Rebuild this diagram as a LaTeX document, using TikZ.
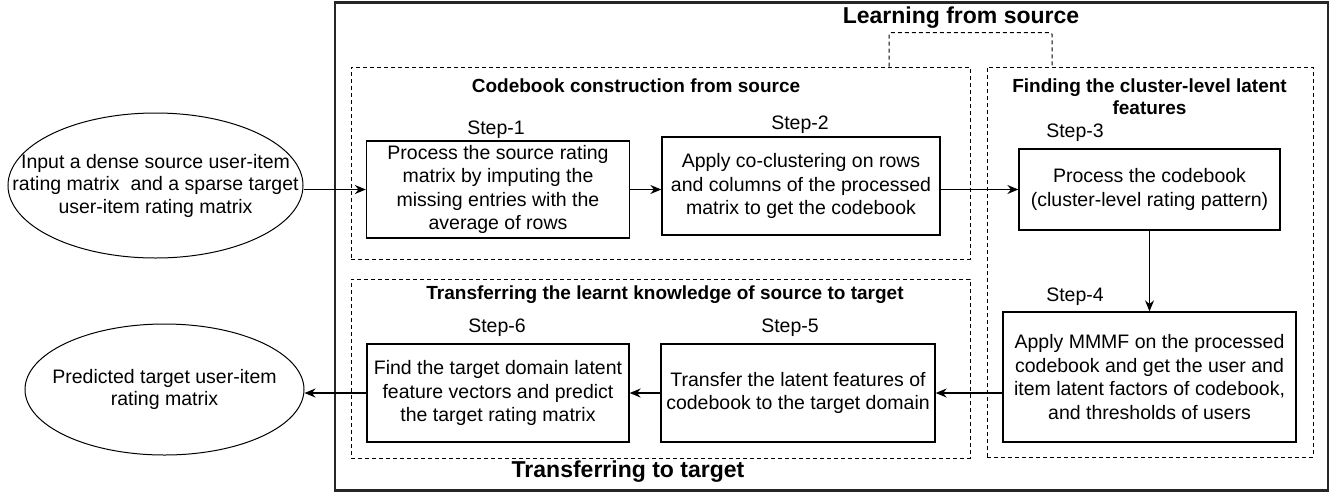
\documentclass[tikz,border=0pt]{standalone}
\usepackage{fontspec}
\setmainfont{Liberation Sans}
\usetikzlibrary{positioning,arrows.meta,shapes.geometric}

\begin{document}
\begin{tikzpicture}[x=1pt, y=-1pt,
	stepbox/.style={draw, line width=1.3pt, align=center, inner sep=0pt,
		font=\fontsize{19.5}{23.5}\selectfont},
	oval/.style={draw, ellipse, line width=1pt, align=center, inner ysep=0pt,
		font=\fontsize{19.5}{22.5}\selectfont},
	grpbox/.style={draw, line width=1pt, dash pattern=on 4pt off 3pt, inner sep=0pt},
	steplbl/.style={anchor=base, font=\fontsize{19.5}{23}\selectfont},
	grptitle/.style={anchor=base, font=\bfseries\fontsize{19}{22}\selectfont},
	bigtitle/.style={anchor=base, font=\bfseries\fontsize{23}{27}\selectfont},
	flow/.style={-{Stealth[length=11pt,width=9pt]}, line width=1.3pt}
	]

	\def\xL{498}
	\def\xM{800}
	\def\xR{1149.5}
	%
	\def\yT{189.5}
	\def\yB{393}

	\useasboundingbox (0,0) rectangle (1343,493);

	% frames
	\node[draw, line width=2.2pt, draw=black!85, inner sep=0pt,
		minimum width=993, minimum height=488] (outer) at (831.5,246.5) {};
	\node[grpbox, minimum width=619, minimum height=192] (cbk) at (660.5,163) {};
	\node[grpbox, minimum width=619, minimum height=179] (trf) at (660.5,368.5) {};
	\node[grpbox, minimum width=326, minimum height=390] (fnd) at (1150,262) {};

	\coordinate (lnkL) at (cbk.north -| 889,0);
	\coordinate (lnkR) at (fnd.north -| 1052,0);
	\draw[grpbox, rounded corners=2pt]
		(lnkL) -- ++(0,-34) -| (lnkR);

	% titles
	\node[bigtitle] (tLearn) at (961,23) {Learning from source};
	\node[bigtitle] (tTrans) at (628,477) {Transferring to target};
	\node[grptitle] (tCbk) at (636,92) {Codebook construction from source};
	\node[grptitle] (tFnd1) at (\xR,92) {Finding the cluster-level latent};
	\node[grptitle] (tFnd2) at (\xR,114) {features};
	\node[grptitle] (tTrf) at (665,299) {Transferring the learnt knowledge of source to target};

	% steps
	\foreach \n/\x/\y in {1/496/134, 2/800/129, 3/1075/137, 4/1075/301, 5/790/332, 6/497/332}{
		\node[steplbl] (lbl\n) at (\x,\y) {Step-\n};
	}

	\node[stepbox, minimum width=263, minimum height=97] (s1) at (\xL,\yT)
		{Process the source rating\\matrix by imputing the\\missing entries with the\\average of rows};
	\node[stepbox, minimum width=278, minimum height=98] (s2) at (801,186)
		{Apply co-clustering on rows\\and columns of the processed\\matrix to get the codebook};
	\node[stepbox, minimum width=261, minimum height=81] (s3) at (\xR,\yT)
		{Process the codebook\\(cluster-level rating pattern)};
	\node[stepbox, minimum width=293, minimum height=130] (s4) at (\xR,377)
		{Apply MMMF on the processed\\codebook and get the user and\\item latent factors of codebook,\\and thresholds of users};
	\node[stepbox, minimum width=274, minimum height=98] (s5) at (798,\yB)
		{Transfer the latent features of\\codebook to the target domain};
	\node[stepbox, minimum width=262, minimum height=98] (s6) at (\xL,\yB)
		{Find the target domain latent\\feature vectors and predict\\the target rating matrix};

	% input / output
	\node[oval, inner xsep=-45pt, minimum width=295, minimum height=145] (in) at (155.5,185.5)
		{Input a dense source user-item\\rating matrix\ \ and a sparse target\\user-item rating matrix};
	\node[oval, inner xsep=-30pt, minimum width=279, minimum height=131] (out) at (164.5,389.5)
		{Predicted target user-item\\rating matrix};

	\draw[flow]
		(s1.west -| in.east) -- (s1.west);
	\draw[flow]
		(s1.east) -- (s1.east -| s2.west);
	\draw[flow]
		(s3.west -| s2.east) -- (s3.west);
	\draw[flow]
		(s3.south) -- (s4.north);
	\draw[flow]
		(s5.east -| s4.west) -- (s5.east);
	\draw[flow]
		(s5.west) -- (s6.east);
	\draw[flow]
		(s6.west) -- (s6.west -| out.east);

\end{tikzpicture}
\end{document}
